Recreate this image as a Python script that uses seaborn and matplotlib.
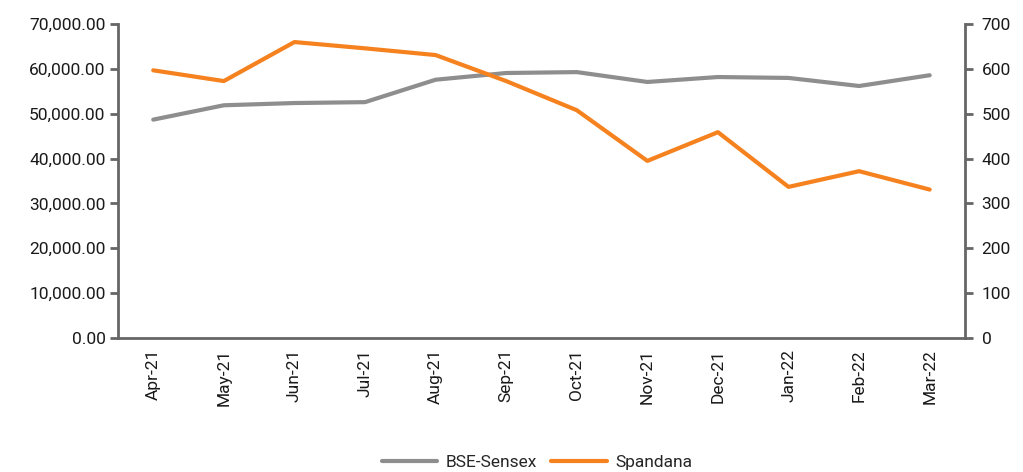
import numpy as np
import pandas as pd
import matplotlib
matplotlib.use("Agg")
import matplotlib.pyplot as plt
import seaborn as sns
from matplotlib.ticker import FuncFormatter, MultipleLocator, FixedLocator
from matplotlib.lines import Line2D

months = ["Apr-21", "May-21", "Jun-21", "Jul-21", "Aug-21", "Sep-21",
          "Oct-21", "Nov-21", "Dec-21", "Jan-22", "Feb-22", "Mar-22"]
sensex = [48700, 51900, 52400, 52600, 57600, 59100,
          59300, 57100, 58200, 58000, 56200, 58600]
spandana = [597, 573, 660, 646, 631, 573,
            508, 395, 459, 337, 372, 331]

sns.set_theme(style="white")
plt.rcParams["font.family"] = ["Roboto", "DejaVu Sans"]

df = pd.DataFrame({"Month": months, "BSE-Sensex": sensex, "Spandana": spandana})
df["pos"] = np.arange(len(months))

gray = "#8e8e8e"
orange = "#f5821f"
spine_c = "#666666"

fig = plt.figure(figsize=(10.23, 4.72), dpi=100)
ax = fig.add_axes([0.1153, 0.2839, 0.828, 0.665])
ax2 = ax.twinx()

sns.lineplot(data=df, x="pos", y="BSE-Sensex", ax=ax, color=gray, linewidth=3)
sns.lineplot(data=df, x="pos", y="Spandana", ax=ax2, color=orange, linewidth=3)

ax.set_xlim(-0.5, len(months) - 0.5)
ax.set_ylim(0, 70000)
ax2.set_ylim(0, 700)
ax.yaxis.set_major_locator(MultipleLocator(10000))
ax2.yaxis.set_major_locator(MultipleLocator(100))
ax.yaxis.set_major_formatter(FuncFormatter(lambda v, p: f"{v:,.2f}"))

ax.xaxis.set_major_locator(FixedLocator(df["pos"].tolist()))
ax.set_xticklabels(months, rotation=90)
ax.xaxis.set_minor_locator(FixedLocator(np.arange(-0.5, len(months), 1.0)))
ax.tick_params(axis="x", which="major", length=0, pad=8, labelsize=12.5, labelcolor="#1a1a1a")
ax.tick_params(axis="x", which="minor", length=6, width=2, color=spine_c, direction="out")
ax.tick_params(axis="y", length=6, width=2, color=spine_c, direction="out", labelsize=12.5,
               labelcolor="#1a1a1a", pad=3)
ax2.tick_params(axis="y", length=6, width=2, color=spine_c, direction="out", labelsize=12.5,
                labelcolor="#1a1a1a", pad=6)

for a in (ax, ax2):
    a.set_xlabel("")
    a.set_ylabel("")
    a.spines["top"].set_visible(False)
    for s in ("left", "right", "bottom"):
        a.spines[s].set_color(spine_c)
        a.spines[s].set_linewidth(2)
ax.spines["right"].set_visible(False)
ax2.spines["left"].set_visible(False)
ax2.spines["bottom"].set_visible(False)

handles = [Line2D([0], [0], color=gray, lw=3), Line2D([0], [0], color=orange, lw=3)]
fig.legend(handles, ["BSE-Sensex", "Spandana"], loc="center", bbox_to_anchor=(0.525, 0.02),
           ncol=2, frameon=False, fontsize=12.5, handlelength=3.2, columnspacing=0.8,
           handletextpad=0.5)

fig.savefig("out.png", dpi=100)
